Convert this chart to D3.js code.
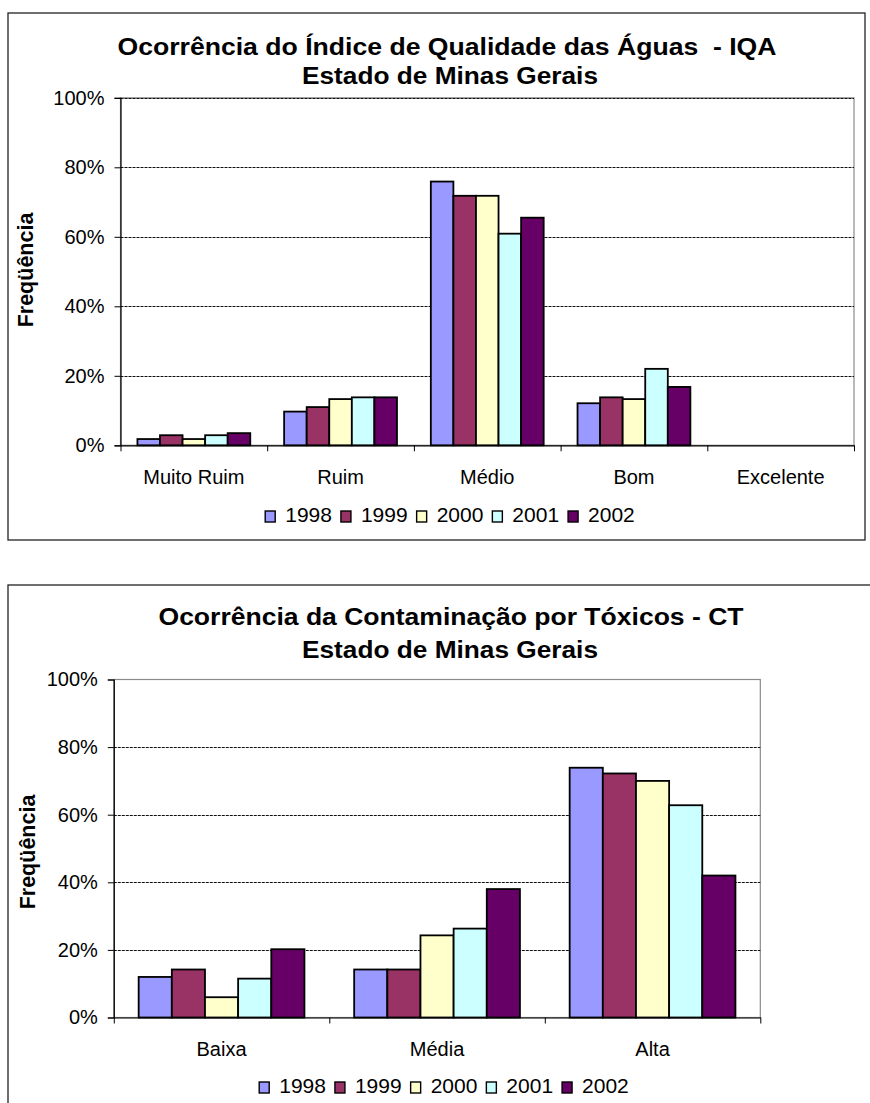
<!DOCTYPE html>
<html>
<head>
<meta charset="utf-8">
<script src="https://cdn.jsdelivr.net/npm/d3@7"></script>
<style>
  html, body { margin: 0; padding: 0; background: #fff; }
  svg { display: block; font-family: Arial, "Liberation Sans", sans-serif; }
</style>
</head>
<body>
<svg id="chart" width="870" height="1103"></svg>
<script>
// ---------- DATA ----------
const years = ["1998", "1999", "2000", "2001", "2002"];
const yearColors = ["#9999FF", "#993366", "#FFFFCC", "#CCFFFF", "#660066"];
const yTicks = [0, 20, 40, 60, 80, 100];

// Chart 1: IQA
const iqaTitle = ["Ocorrência do Índice de Qualidade das Águas\u00a0 - IQA", "Estado de Minas Gerais"];
const iqaCategories = ["Muito Ruim", "Ruim", "Médio", "Bom", "Excelente"];
const iqa1998 = [1.8, 9.7, 75.9, 12.1, 0];
const iqa1999 = [2.9, 11.0, 71.8, 13.8, 0];
const iqa2000 = [1.8, 13.3, 71.8, 13.3, 0];
const iqa2001 = [2.9, 13.8, 60.9, 22.0, 0];
const iqa2002 = [3.5, 13.8, 65.5, 16.8, 0];

// Chart 2: CT
const ctTitle = ["Ocorrência da Contaminação por Tóxicos - CT", "Estado de Minas Gerais"];
const ctCategories = ["Baixa", "Média", "Alta"];
const ct1998 = [12.0, 14.2, 73.9];
const ct1999 = [14.2, 14.2, 72.2];
const ct2000 = [6.0, 24.3, 70.0];
const ct2001 = [11.5, 26.3, 62.8];
const ct2002 = [20.2, 38.0, 42.0];

const yTitle = "Freqüência";

// ---------- LAYOUT ----------
const svg = d3.select("#chart");

function drawChart(cfg) {
  const g = svg.append("g");
  // outer frame
  g.append("rect")
    .attr("x", cfg.frame[0]).attr("y", cfg.frame[1])
    .attr("width", cfg.frame[2]).attr("height", cfg.frame[3])
    .attr("fill", "#fff").attr("stroke", "#222").attr("stroke-width", 1.3);

  const [px0, py0, px1, py1] = cfg.plot;
  const y = d3.scaleLinear().domain([0, 100]).range([py1, py0]);
  const x = d3.scaleBand().domain(cfg.categories).range([px0, px1]).padding(0);
  const C = x.bandwidth();
  const xs = d3.scaleBand().domain(years).range([C * 0.75 / 6.5, C * 5.75 / 6.5]).padding(0);

  // plot area border (gray)
  g.append("rect")
    .attr("x", px0).attr("y", py0).attr("width", px1 - px0).attr("height", py1 - py0)
    .attr("fill", "none").attr("stroke", "#8a8a8a").attr("stroke-width", 1.2);

  // gridlines
  g.append("g").selectAll("line")
    .data(yTicks.filter(t => t > 0 && (t < 100 || cfg.gridTop)))
    .join("line")
    .attr("x1", px0).attr("x2", px1)
    .attr("y1", d => Math.round(y(d)) + 0.5).attr("y2", d => Math.round(y(d)) + 0.5)
    .attr("stroke", "#111").attr("stroke-width", 1).attr("stroke-dasharray", "3,1");

  // bars
  const series = cfg.series;
  const bars = [];
  series.forEach((vals, si) => {
    vals.forEach((v, ci) => {
      if (v > 0) bars.push({ cat: cfg.categories[ci], year: years[si], v, color: yearColors[si] });
    });
  });
  g.append("g").selectAll("rect")
    .data(bars)
    .join("rect")
    .attr("x", d => x(d.cat) + xs(d.year))
    .attr("y", d => y(d.v))
    .attr("width", xs.bandwidth())
    .attr("height", d => y(0) - y(d.v))
    .attr("fill", d => d.color)
    .attr("stroke", "#000").attr("stroke-width", 1.8);

  // y axis
  const yAxis = d3.axisLeft(y).tickValues(yTicks).tickFormat(d => d + "%").tickSize(6).tickPadding(10);
  const ya = g.append("g").attr("transform", `translate(${px0},0)`).call(yAxis);
  ya.select(".domain").attr("stroke", "#000").attr("stroke-width", 1.2);
  ya.selectAll(".tick line").attr("stroke", "#000");
  ya.selectAll(".tick text").attr("font-size", 20).attr("fill", "#000")
    .attr("font-family", "Arial, 'Liberation Sans', sans-serif");

  // x axis: boundary ticks
  const xb = d3.scaleLinear().domain([0, cfg.categories.length]).range([px0, px1]);
  const xAxis = d3.axisBottom(xb).tickValues(d3.range(cfg.categories.length + 1))
    .tickFormat("").tickSize(6).tickSizeOuter(0);
  const xa = g.append("g").attr("transform", `translate(0,${py1})`).call(xAxis);
  xa.select(".domain").attr("stroke", "#000").attr("stroke-width", 1.2);
  xa.selectAll(".tick line").attr("stroke", "#000");

  // category labels
  g.append("g").selectAll("text")
    .data(cfg.categories)
    .join("text")
    .attr("x", d => x(d) + C / 2)
    .attr("y", py1 + cfg.catDy)
    .attr("text-anchor", "middle")
    .attr("font-size", 20)
    .text(d => d);

  // titles
  cfg.title.forEach((t, i) => {
    g.append("text")
      .attr("x", cfg.titlePos[i][0]).attr("y", cfg.titlePos[i][1])
      .attr("text-anchor", "middle")
      .attr("font-size", 23).attr("font-weight", "bold")
      .attr("textLength", cfg.titleLen[i]).attr("lengthAdjust", "spacingAndGlyphs")
      .text(t);
  });

  // y axis title
  g.append("text")
    .attr("transform", `translate(${cfg.yTitlePos[0]},${cfg.yTitlePos[1]}) rotate(-90)`)
    .attr("text-anchor", "middle")
    .attr("font-size", 21.5).attr("font-weight", "bold")
    .text(yTitle);

  // legend
  const lg = g.append("g");
  const items = lg.selectAll("g").data(years).join("g");
  items.append("rect").attr("width", 10).attr("height", 11).attr("y", -11)
    .attr("fill", (d, i) => yearColors[i]).attr("stroke", "#000").attr("stroke-width", 1.4);
  items.append("text").attr("x", 20).attr("y", 0).attr("font-size", 21).text(d => d);
  let cx = 0;
  items.each(function () {
    const el = d3.select(this);
    el.attr("transform", `translate(${cx},0)`);
    cx += 20 + el.select("text").node().getComputedTextLength() + 9;
  });
  const total = cx - 9;
  lg.attr("transform", `translate(${cfg.legendCenter[0] - total / 2},${cfg.legendCenter[1]})`);
}

drawChart({
  frame: [8, 13, 857, 527],
  plot: [120.5, 97.8, 854, 445.3],
  categories: iqaCategories,
  series: [iqa1998, iqa1999, iqa2000, iqa2001, iqa2002],
  catDy: 39,
  gridTop: true,
  title: iqaTitle,
  titlePos: [[447, 55], [450, 84]],
  titleLen: [659, 296],
  yTitlePos: [33, 270],
  legendCenter: [450, 522]
});

drawChart({
  frame: [8, 585, 880, 540],
  plot: [113.8, 679.5, 760.3, 1017.5],
  categories: ctCategories,
  series: [ct1998, ct1999, ct2000, ct2001, ct2002],
  catDy: 38,
  gridTop: false,
  title: ctTitle,
  titlePos: [[451, 625], [450, 658]],
  titleLen: [585, 296],
  yTitlePos: [35, 852],
  legendCenter: [444, 1093]
});
</script>
</body>
</html>
